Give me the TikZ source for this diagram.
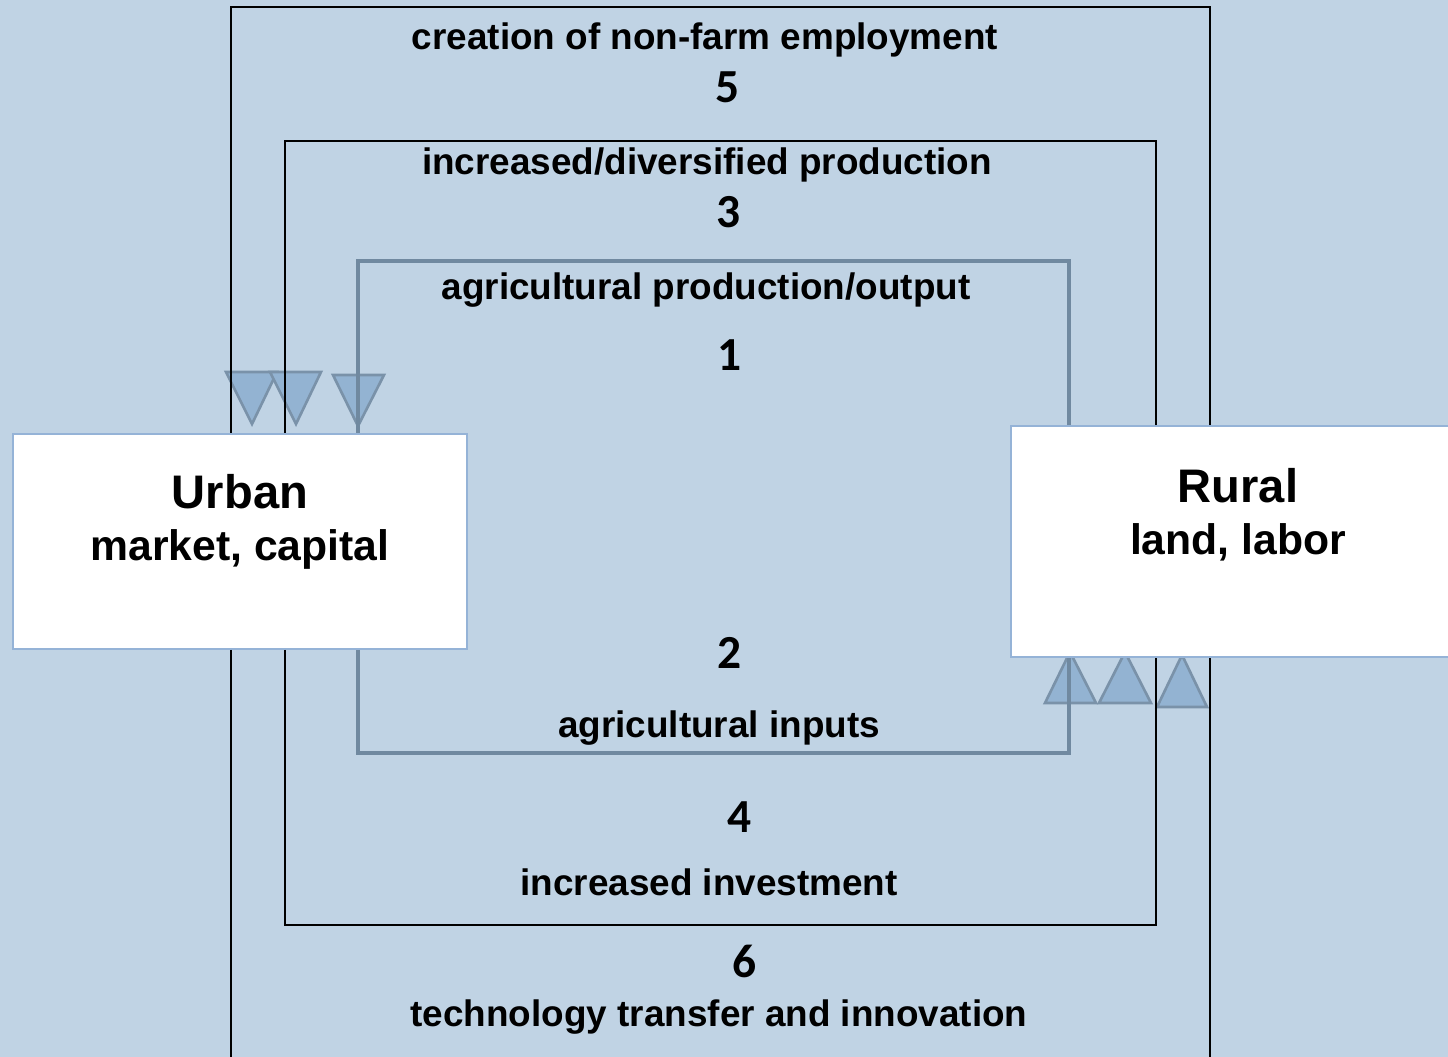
\documentclass[tikz,border=0pt]{standalone}
\usepackage{fontspec}
\setmainfont{Liberation Sans}
\newfontfamily\digitfont{Carlito}
\usetikzlibrary{calc}

\definecolor{bgblue}{HTML}{C0D3E4}
\definecolor{tipfill}{HTML}{93B3D2}
\definecolor{tipline}{HTML}{7A92A9}
\definecolor{innerline}{HTML}{7089A0}
\definecolor{boxline}{HTML}{95B3D7}

\pgfdeclarelayer{back}
\pgfsetlayers{back,main}

\begin{document}
\begin{tikzpicture}[
      x=0.02cm, y=-0.02cm,
      loopout/.style={draw=black, line width=1.4pt},
      loopin/.style={draw=innerline, line width=1.8pt},
      tipmark/.style={fill=tipfill, draw=tipline, line width=1.5pt, line join=miter},
      place/.style={draw=boxline, fill=white, line width=1.1pt,
        minimum width=9.08cm, inner sep=0pt},
      lbl/.style={anchor=base, font=\fontsize{21}{25}\selectfont\bfseries},
      num/.style={anchor=base, font=\fontsize{27}{32}\selectfont\digitfont\bfseries},
      title/.style={anchor=base, font=\fontsize{26.8}{31}\selectfont\bfseries},
      subtitle/.style={anchor=base, font=\fontsize{24.3}{28}\selectfont\bfseries}]
    \useasboundingbox (0,0) rectangle (1448,1057);
    \clip (0,0) rectangle (1448,1057);

    \begin{pgfonlayer}{back}
      \fill[bgblue] (0,0) rectangle (1448,1057);
      % arrow heads into Urban
      \draw[tipmark] (226,372) -- (277,372) -- (252,424) -- cycle;
      \draw[tipmark] (270,372) -- (321,372) -- (296,424) -- cycle;
      \draw[tipmark] (333,375) -- (384,375) -- (358,426) -- cycle;
      % arrow heads into Rural
      \draw[tipmark] (1045,703) -- (1096,703) -- (1070,652) -- cycle;
      \draw[tipmark] (1099,703) -- (1151,703) -- (1125,652) -- cycle;
      \draw[tipmark] (1157,707) -- (1207,707) -- (1182,655) -- cycle;
    \end{pgfonlayer}

    \node[place, minimum height=4.3cm]  (urban) at (240,541.5) {};
    \node[place, minimum height=4.62cm] (rural) at (1238,541.5) {};

    \node[title]    (urbanname) at (240,509)  {Urban};
    \node[subtitle] (urbanhas)  at (240,561)  {market, capital};
    \node[title]    (ruralname) at (1238,503) {Rural};
    \node[subtitle] (ruralhas)  at (1238,555) {land, labor};

    % flows
    \draw[loopin]  (1069,0 |- rural.north) |- (358,261) -- (358,0 |- urban.north);
    \draw[loopin]  (358,0 |- urban.south) |- (1069,753) -- (1069,0 |- rural.south);
    \draw[loopout] (1156,0 |- rural.north) |- (285,141) -- (285,0 |- urban.north);
    \draw[loopout] (285,0 |- urban.south) |- (1156,925) -- (1156,0 |- rural.south);
    \draw[loopout] (1210,0 |- rural.north) |- (231,7) -- (231,0 |- urban.north);
    \draw[loopout] (231,0 |- urban.south) |- (1210,1090) -- (1210,0 |- rural.south);

    \node[lbl] (nonfarm)  at (705,50)   {creation of non-farm employment};
    \node[num] (five)     at (728,103)  {5};
    \node[lbl] (diverse)  at (707,175)  {increased/diversified production};
    \node[num] (three)    at (729,228)  {3};
    \node[lbl] (output)   at (706,300)  {agricultural production/output};
    \node[num] (one)      at (730,371)  {1};
    \node[num] (two)      at (730,668)  {2};
    \node[lbl] (inputs)   at (719,737)  {agricultural inputs};
    \node[num] (four)     at (740,832)  {4};
    \node[lbl] (invest)   at (709,895)  {increased investment};
    \node[num] (six)      at (745,977)  {6};
    \node[lbl] (techno)   at (719,1026) {technology transfer and innovation};
  \end{tikzpicture}
\end{document}
